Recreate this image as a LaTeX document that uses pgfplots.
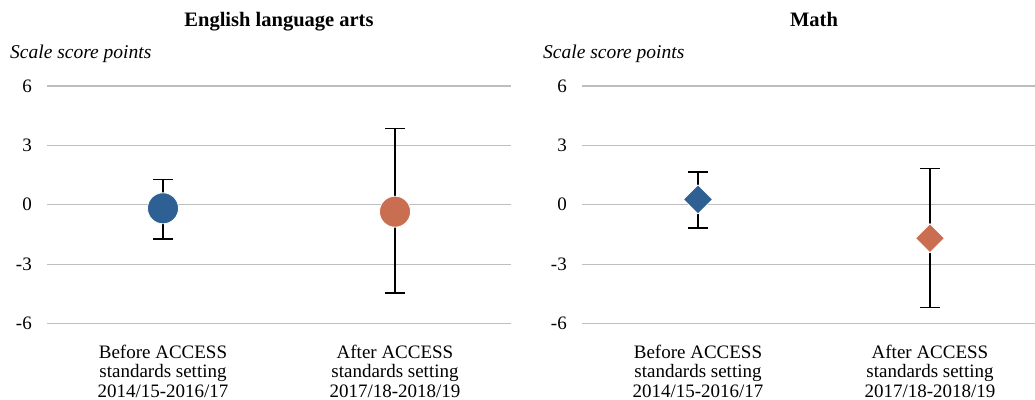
\documentclass[border=0pt]{standalone}
\usepackage{pgfplots}
\pgfplotsset{compat=1.18}
\usepackage{fontspec}
\setmainfont{Liberation Serif}
\definecolor{cblue}{RGB}{46,96,148}
\definecolor{corange}{RGB}{201,110,80}
\definecolor{cgrid}{RGB}{190,190,190}
\newcommand{\fs}{\fontsize{19bp}{19.5bp}\selectfont}
\pgfplotsset{panel/.style={
  scale only axis, height=237.5bp, width=464bp,
  ymin=-6, ymax=6, ytick={-6,-3,0,3,6},
  xmin=-0.5, xmax=1.5, xtick={0,1},
  xticklabels={{Before ACCESS\\standards setting\\2014/15-2016/17},{After ACCESS\\standards setting\\2017/18-2018/19}},
  ymajorgrids, grid style={cgrid, line width=1.2bp},
  axis line style={draw=none}, major tick length=0pt, tick style={draw=none},
  yticklabel style={anchor=east, inner sep=0pt, xshift=-15bp},
  xticklabel style={align=center, anchor=north, inner sep=0pt, yshift=-21bp},
  tick label style={font=\fs},
  /pgf/number format/assume math mode=true,
  clip=false},
  ebar/.style={black, only marks, mark=none, error bars/.cd, y dir=both, y explicit,
    error bar style={line width=1.6bp, black},
    error mark options={black, rotate=90, mark size=10bp, line width=1.6bp}}
}
\begin{document}
\begin{tikzpicture}
\useasboundingbox (0,0) rectangle (1035bp,-400bp);
\node[font=\fontsize{20.5bp}{22bp}\selectfont\bfseries, anchor=base] at (279bp,-26bp) {English language arts};
\node[font=\fontsize{20.5bp}{22bp}\selectfont\bfseries, anchor=base] at (814bp,-26bp) {Math};
\node[font=\fontsize{19.5bp}{22bp}\selectfont\itshape, anchor=base west, inner sep=0pt] at (10bp,-58bp) {Scale score points};
\node[font=\fontsize{19.5bp}{22bp}\selectfont\itshape, anchor=base west, inner sep=0pt] at (543bp,-58bp) {Scale score points};
\begin{axis}[panel, at={(47bp,-323.5bp)}, anchor=south west]
\addplot[ebar] coordinates {(0,-0.18) += (0,1.46) -= (0,1.55) (1,-0.35) += (0,4.21) -= (0,4.12)};
\addplot[only marks, mark=*, mark size=15.5bp, mark options={fill=cblue, draw=white, line width=0.8bp}] coordinates {(0,-0.18)};
\addplot[only marks, mark=*, mark size=15.5bp, mark options={fill=corange, draw=white, line width=0.8bp}] coordinates {(1,-0.35)};
\end{axis}
\begin{axis}[panel, at={(582bp,-323.5bp)}, anchor=south west]
\addplot[ebar] coordinates {(0,0.27) += (0,1.40) -= (0,1.45) (1,-1.69) += (0,3.53) -= (0,3.50)};
\addplot[only marks, mark=square*, mark size=10.25bp, mark options={rotate=45, fill=cblue, draw=white, line width=0.8bp}] coordinates {(0,0.27)};
\addplot[only marks, mark=square*, mark size=10.25bp, mark options={rotate=45, fill=corange, draw=white, line width=0.8bp}] coordinates {(1,-1.69)};
\end{axis}
\end{tikzpicture}
\end{document}
